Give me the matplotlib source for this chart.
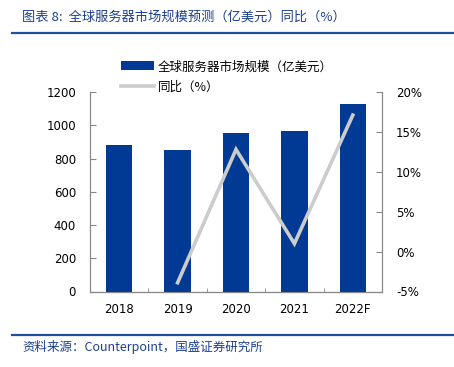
import matplotlib
matplotlib.use("Agg")
import matplotlib.pyplot as plt
import numpy as np

plt.rcParams['font.family'] = ['Noto Sans CJK SC', 'DejaVu Sans']

years = ["2018", "2019", "2020", "2021", "2022F"]
market_size = [880, 850, 955, 968, 1128]   # 亿美元
yoy_years = ["2019", "2020", "2021", "2022F"]
yoy = [-3.9, 12.8, 1.0, 17.1]               # %

bar_color = "#003A94"
line_color = "#CCCCCC"
title_color = "#1B3F8F"

fig = plt.figure(figsize=(4.54, 3.67), dpi=100)
ax = fig.add_axes([90 / 454, 1 - 291.5 / 367, 292 / 454, 199.5 / 367])
ax2 = ax.twinx()

x = np.arange(len(years))
b = ax.bar(x, market_size, width=0.45, color=bar_color, zorder=2)
xl = [years.index(y) for y in yoy_years]
ln, = ax2.plot(xl, yoy, color=line_color, lw=2.6, solid_joinstyle='miter')

ax.set_xlim(-0.5, len(years) - 0.5)
ax.set_ylim(0, 1200)
ax.set_yticks(range(0, 1201, 200))
ax2.set_ylim(-5, 20)
ax2.set_yticks(range(-5, 21, 5))
ax2.set_yticklabels([f"{v}%" for v in range(-5, 21, 5)])

ax.set_xticks(x)
ax.set_xticklabels(years)
ax.set_xticks(np.arange(-0.5, len(years), 1), minor=True)
ax.tick_params(axis='x', which='major', length=0, pad=8, labelsize=8.5)
ax.tick_params(axis='x', which='minor', direction='in', length=3, color="#888888")
ax.tick_params(axis='y', direction='in', length=4, color="#888888", labelsize=8.5, pad=10)
ax2.tick_params(axis='y', direction='in', length=4, color="#888888", labelsize=8.5, pad=10)
for lab in ax.get_xticklabels() + ax.get_yticklabels() + ax2.get_yticklabels():
    lab.set_family('DejaVu Sans')

for a in (ax, ax2):
    a.spines['top'].set_visible(False)
    for s in ('left', 'right', 'bottom'):
        a.spines[s].set_color("#888888")
        a.spines[s].set_linewidth(0.8)
ax.spines['bottom'].set_color("#333333")

# ax2 on top so the line sits over the bars
ax2.set_zorder(ax.get_zorder() + 1)
ax2.patch.set_visible(False)

fig.legend([b, ln], ["全球服务器市场规模（亿美元）", "同比（%）"],
           loc='upper left', bbox_to_anchor=(110 / 454, 1 - 49 / 367),
           frameon=False, fontsize=9, handlelength=2.6, handleheight=0.75,
           labelspacing=0.6, handletextpad=0.35)

fig.text(22 / 454, 1 - 17 / 367, "图表 8:  全球服务器市场规模预测（亿美元）同比（%）",
         color=title_color, fontsize=9.5, style='italic', va='center', ha='left')
fig.add_artist(plt.Line2D([12 / 454, 1], [1 - 32.5 / 367] * 2, color="#1F4FA0", lw=1.6))
fig.add_artist(plt.Line2D([12 / 454, 1], [1 - 335 / 367] * 2, color="#1F4FA0", lw=1.6))
fig.text(22 / 454, 1 - 347 / 367, "资料来源：Counterpoint，国盛证券研究所",
         color=title_color, fontsize=9, style='italic', va='center', ha='left')

fig.savefig("out.png", dpi=100)
